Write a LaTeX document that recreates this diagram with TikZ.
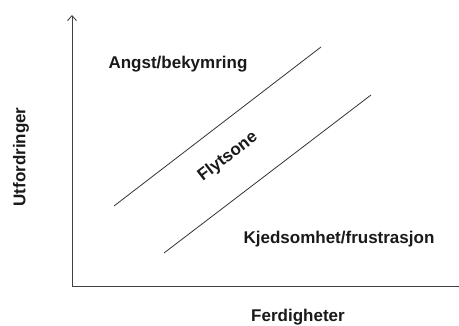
\documentclass[tikz,border=0pt]{standalone}
\usepackage{fontspec}
\setmainfont{Liberation Sans}
\usetikzlibrary{arrows.meta}
\begin{document}
\begin{tikzpicture}[x=1pt,y=-1pt,
  axis/.style={line width=0.9pt, draw=black!75},
  zone/.style={line width=0.8pt, draw=black!80},
  lbl/.style={font=\fontsize{17}{20}\selectfont\bfseries, text=black!90, inner sep=0pt}]
\useasboundingbox (0,0) rectangle (459,325);
\coordinate (o) at (72,286);
\coordinate (ytop) at (72,15);
\coordinate (xend) at (459,286);
\draw[axis, -{Straight Barb[length=5pt,width=9pt]}] (o) -- (ytop);
\draw[axis] (o) -- (xend);
\coordinate (a1) at (114,206);
\coordinate (a2) at (321,47);
\coordinate (b1) at (164,253);
\coordinate (b2) at (371,95);
\draw[zone] (a1) -- (a2);
\draw[zone] (b1) -- (b2);
\node[lbl] (angst) at (178,64) {Angst/bekymring};
\node[lbl] (kjed) at (339,239) {Kjedsomhet/frustrasjon};
\node[lbl, rotate=37.5] (flyt) at (228,157) {Flytsone};
\node[lbl, rotate=90] (utf) at (21,157) {Utfordringer};
\node[lbl] (ferd) at (298,317) {Ferdigheter};
\end{tikzpicture}
\end{document}
